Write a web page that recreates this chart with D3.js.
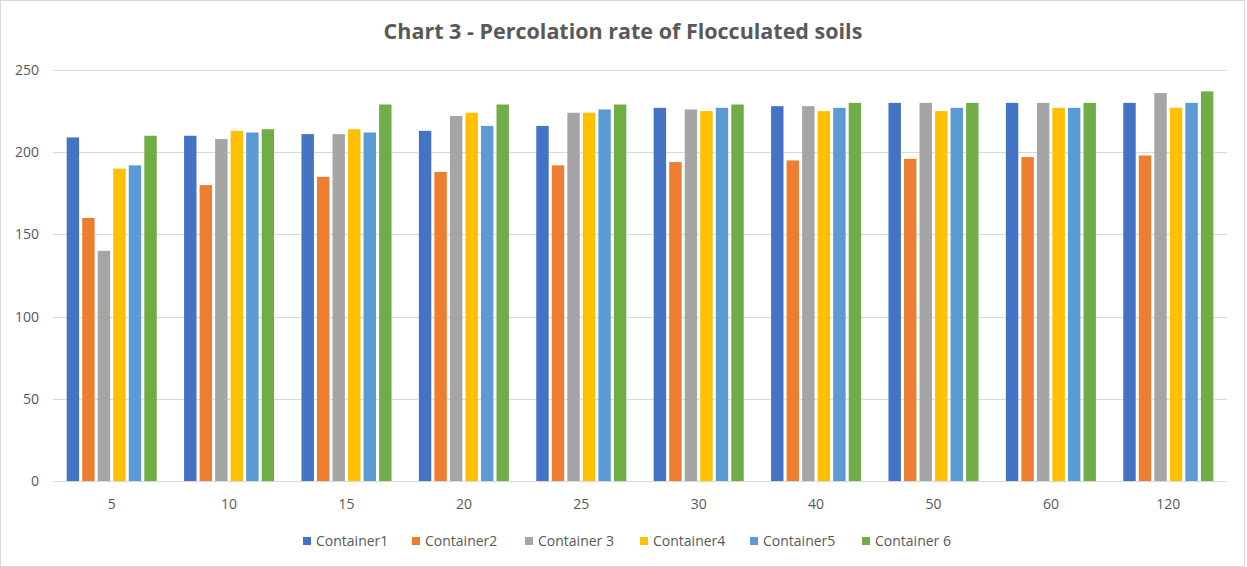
<!DOCTYPE html>
<html>
<head>
<meta charset="utf-8">
<script src="https://cdn.jsdelivr.net/npm/d3@7"></script>
<style>
  html, body { margin: 0; padding: 0; background: #fff; }
  svg { display: block; }
</style>
</head>
<body>
<svg id="chart" width="1247" height="567"></svg>
<script>
const categories = ["5", "10", "15", "20", "25", "30", "40", "50", "60", "120"];
const seriesNames = ["Container1", "Container2", "Container 3", "Container4", "Container5", "Container 6"];
const container1 = [209, 210, 211, 213, 216, 227, 228, 230, 230, 230];
const container2 = [160, 180, 185, 188, 192, 194, 195, 196, 197, 198];
const container3 = [140, 208, 211, 222, 224, 226, 228, 230, 230, 236];
const container4 = [190, 213, 214, 224, 224, 225, 225, 225, 227, 227];
const container5 = [192, 212, 212, 216, 226, 227, 227, 227, 227, 230];
const container6 = [210, 214, 229, 229, 229, 229, 230, 230, 230, 237];
const yTicks = [0, 50, 100, 150, 200, 250];
const colors = ["#4472C4", "#ED7D31", "#A5A5A5", "#FFC000", "#5B9BD5", "#70AD47"];
const title = "Chart 3 - Percolation rate of Flocculated soils";

const seriesValues = [container1, container2, container3, container4, container5, container6];

const svg = d3.select("#chart");
const W = 1247, H = 567;
const font = "'Open Sans', 'Liberation Sans', sans-serif";

// outer border
svg.append("rect").attr("x", 0.5).attr("y", 0.5).attr("width", W - 3).attr("height", H - 1)
  .attr("fill", "#fff").attr("stroke", "#d9d9d9");

const plot = { left: 53, right: 1227, top: 70, bottom: 481 };

const y = d3.scaleLinear().domain([0, 250]).range([plot.bottom, plot.top]);
const x0 = d3.scaleBand().domain(categories).range([plot.left, plot.right])
  .paddingInner(0.233).paddingOuter(0.1165);
const x1 = d3.scaleBand().domain(seriesNames).range([0, x0.bandwidth()]).paddingInner(0.2).paddingOuter(0);

// grid
svg.append("g").selectAll("line").data(yTicks).join("line")
  .attr("x1", plot.left).attr("x2", plot.right)
  .attr("y1", d => Math.round(y(d)) + 0.5).attr("y2", d => Math.round(y(d)) + 0.5)
  .attr("stroke", "#d9d9d9").attr("stroke-width", 1);

// y axis labels
const yAxis = d3.axisLeft(y).tickValues(yTicks).tickSize(0).tickPadding(0);
const gy = svg.append("g").attr("transform", `translate(${plot.left - 14},0)`).call(yAxis);
gy.select(".domain").remove();
gy.selectAll("text").attr("font-family", font).attr("font-size", 14).attr("fill", "#595959");

// x axis labels
const xAxis = d3.axisBottom(x0).tickSize(0).tickPadding(0);
const gx = svg.append("g").attr("transform", `translate(0,${plot.bottom + 18})`).call(xAxis);
gx.select(".domain").remove();
gx.selectAll("text").attr("font-family", font).attr("font-size", 14).attr("fill", "#595959");

// bars
const groups = svg.append("g").selectAll("g").data(categories).join("g")
  .attr("transform", d => `translate(${x0(d)},0)`);
groups.selectAll("rect")
  .data((c, i) => seriesNames.map((s, j) => ({ s, j, v: seriesValues[j][i] })))
  .join("rect")
  .attr("x", d => x1(d.s))
  .attr("width", x1.bandwidth())
  .attr("y", d => y(d.v))
  .attr("height", d => y(0) - y(d.v))
  .attr("fill", d => colors[d.j]);

// baseline
svg.append("line").attr("x1", plot.left).attr("x2", plot.right)
  .attr("y1", Math.round(y(0)) + 0.5).attr("y2", Math.round(y(0)) + 0.5)
  .attr("stroke", "#d9d9d9");

// title
svg.append("text").attr("x", 623).attr("y", 39).attr("text-anchor", "middle")
  .attr("font-family", font).attr("font-weight", "bold").attr("font-size", 21.5)
  .attr("fill", "#595959").text(title);

// legend
const legendX = [303, 412, 525, 640, 750, 862];
const lg = svg.append("g").selectAll("g").data(seriesNames).join("g")
  .attr("transform", (d, i) => `translate(${legendX[i]},537)`);
lg.append("rect").attr("width", 8).attr("height", 8).attr("fill", (d, i) => colors[i]);
lg.append("text").attr("x", 13).attr("y", 8.5).attr("font-family", font).attr("font-size", 14)
  .attr("fill", "#595959").text(d => d);
</script>
</body>
</html>
